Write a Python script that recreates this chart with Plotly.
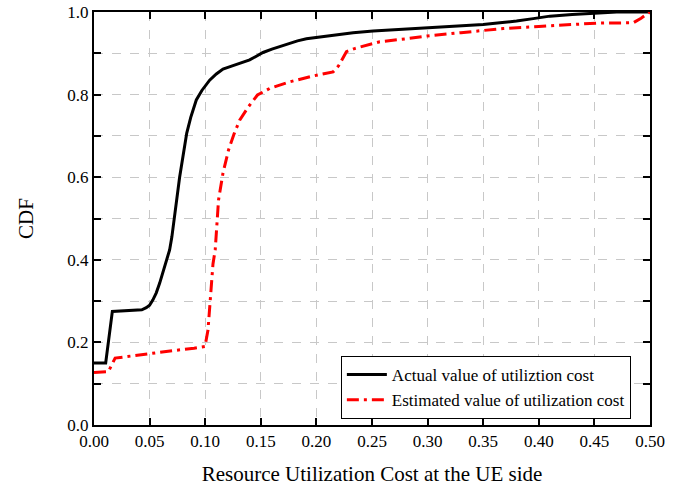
import plotly.graph_objects as go

actual_x = [0.0, 0.0105, 0.0165, 0.025, 0.038, 0.043, 0.047, 0.050, 0.053, 0.056, 0.059, 0.062, 0.065, 0.068,
            0.070, 0.072, 0.0745, 0.077, 0.080, 0.0834, 0.087, 0.092, 0.097, 0.104, 0.110, 0.116, 0.125,
            0.133, 0.140, 0.146, 0.152, 0.160, 0.173, 0.183, 0.191, 0.200, 0.212, 0.222, 0.233, 0.251,
            0.270, 0.300, 0.320, 0.350, 0.365, 0.380, 0.395, 0.410, 0.430, 0.449, 0.470, 0.500]
actual_y = [0.150, 0.150, 0.275, 0.276, 0.277, 0.279, 0.284, 0.290, 0.303, 0.320, 0.343, 0.370, 0.400, 0.424,
            0.455, 0.500, 0.550, 0.600, 0.650, 0.707, 0.745, 0.787, 0.810, 0.835, 0.850, 0.862, 0.870,
            0.877, 0.884, 0.893, 0.902, 0.910, 0.922, 0.930, 0.935, 0.938, 0.943, 0.946, 0.950, 0.954,
            0.957, 0.961, 0.965, 0.970, 0.974, 0.978, 0.984, 0.990, 0.994, 0.997, 1.000, 1.000]

est_x = [0.0, 0.0129, 0.019, 0.030, 0.040, 0.050, 0.060, 0.070, 0.080, 0.090, 0.0998, 0.1025, 0.105, 0.107,
         0.109, 0.112, 0.116, 0.121, 0.126, 0.131, 0.139, 0.147, 0.158, 0.176, 0.197, 0.215, 0.220,
         0.227, 0.235, 0.245, 0.257, 0.280, 0.300, 0.330, 0.368, 0.400, 0.452, 0.485, 0.492, 0.500]
est_y = [0.127, 0.129, 0.162, 0.166, 0.168, 0.172, 0.177, 0.180, 0.183, 0.186, 0.190, 0.230, 0.330, 0.390,
         0.424, 0.545, 0.610, 0.666, 0.705, 0.738, 0.771, 0.799, 0.815, 0.831, 0.845, 0.855, 0.870,
         0.904, 0.912, 0.920, 0.928, 0.935, 0.942, 0.950, 0.960, 0.965, 0.973, 0.974, 0.985, 1.000]

x_ticks = [0.0, 0.05, 0.1, 0.15, 0.2, 0.25, 0.3, 0.35, 0.4, 0.45, 0.5]
x_labels = ["0.00", "0.05", "0.10", "0.15", "0.20", "0.25", "0.30", "0.35", "0.40", "0.45", "0.50"]
y_ticks = [0.0, 0.2, 0.4, 0.6, 0.8, 1.0]
y_labels = ["0.0", "0.2", "0.4", "0.6", "0.8", "1.0"]

FONT = "Liberation Serif"
GRID = "#c8c8c8"

fig = go.Figure()
fig.add_trace(go.Scatter(x=actual_x, y=actual_y, mode="lines", name="Actual value of utiliztion cost",
                         line=dict(color="black", width=3)))
fig.add_trace(go.Scatter(x=est_x, y=est_y, mode="lines", name="Estimated value of utilization cost",
                         line=dict(color="#ff0000", width=3, dash="12px,5px,3px,5px")))

fig.update_layout(
    width=678, height=486,
    margin=dict(l=94, r=28, t=12, b=61, autoexpand=False),
    plot_bgcolor="white", paper_bgcolor="white",
    font=dict(family=FONT, size=17, color="black"),
    showlegend=True,
    legend=dict(x=0.444, y=0.167, xanchor="left", yanchor="top",
                bordercolor="black", borderwidth=1, bgcolor="white",
                font=dict(family=FONT, size=17), tracegroupgap=0,
                itemwidth=40),
    xaxis=dict(range=[0, 0.5], tickvals=x_ticks, ticktext=x_labels, automargin=False,
               showline=True, linecolor="black", linewidth=2, mirror="ticks",
               ticks="inside", ticklen=7, tickwidth=1.5, tickcolor="black",
               showgrid=True, gridcolor=GRID, griddash="dash", gridwidth=1,
               zeroline=False, tickfont=dict(size=17),
               title=dict(text="Resource Utilization Cost at the UE side", font=dict(size=21), standoff=17)),
    yaxis=dict(range=[0, 1.0], tickvals=y_ticks, ticktext=y_labels, automargin=False,
               showline=True, linecolor="black", linewidth=2, mirror="ticks",
               ticks="inside", ticklen=7, tickwidth=1.5, tickcolor="black",
               showgrid=True, gridcolor=GRID, griddash="dash", gridwidth=1,
               zeroline=False, tickfont=dict(size=17),
               minor=dict(dtick=0.1, ticks="inside", ticklen=7, tickwidth=1.5, tickcolor="black",
                          showgrid=True, gridcolor=GRID, griddash="dash", gridwidth=1),
               title=dict(text="CDF", font=dict(size=21), standoff=28)),
)

fig.write_html("out.html")
